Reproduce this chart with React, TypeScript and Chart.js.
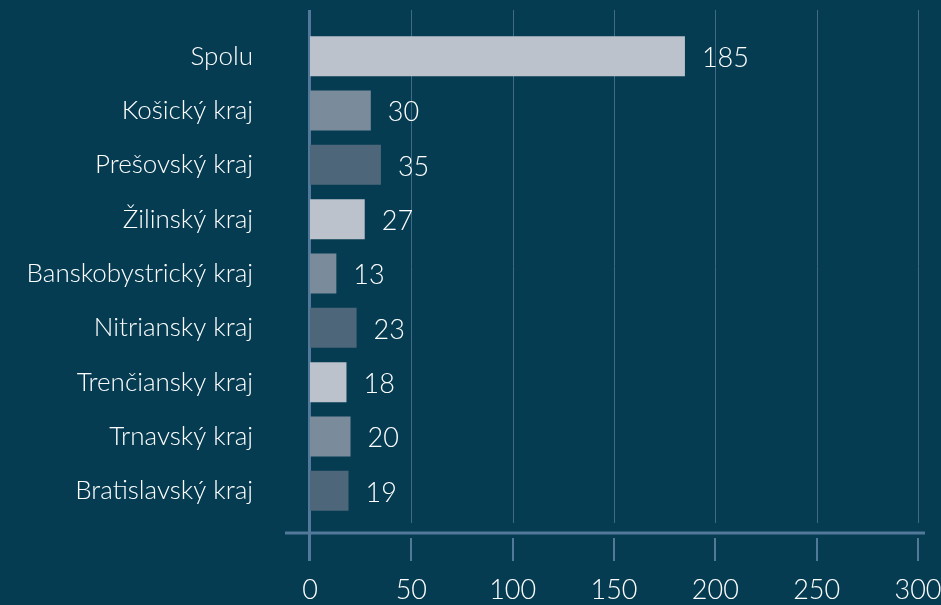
import React, { useEffect, useRef } from "react";
import { Chart, registerables } from "chart.js";

Chart.register(...registerables);

const categories = [
  "Spolu",
  "Košický kraj",
  "Prešovský kraj",
  "Žilinský kraj",
  "Banskobystrický kraj",
  "Nitriansky kraj",
  "Trenčiansky kraj",
  "Trnavský kraj",
  "Bratislavský kraj",
];
const values = [185, 30, 35, 27, 13, 23, 18, 20, 19];
const barColors = [
  "#bcc2cc",
  "#7a8b9b",
  "#4e667a",
  "#bcc2cc",
  "#7a8b9b",
  "#4e667a",
  "#bcc2cc",
  "#7a8b9b",
  "#4e667a",
];
const xTickValues = [0, 50, 100, 150, 200, 250, 300];

const BG = "#053c52";
const GRID = "#3f6b88";
const AXIS = "#52789a";
const FONT = "Lato";

const axesPlugin = {
  id: "customAxes",
  beforeDatasetsDraw(chart: any) {
    const { ctx, chartArea } = chart;
    const { top, bottom, left, right } = chartArea;
    const x = chart.scales.x;
    const gridTop = top - 19;
    const gridBottom = bottom + 5;
    const axisY = bottom + 15;
    const tickTop = bottom + 20;
    const tickBottom = bottom + 43;
    ctx.save();
    ctx.strokeStyle = GRID;
    ctx.lineWidth = 1;
    xTickValues.forEach((v) => {
      if (v === 0) return;
      const px = Math.round(x.getPixelForValue(v)) + 0.5;
      ctx.beginPath();
      ctx.moveTo(px, gridTop);
      ctx.lineTo(px, gridBottom);
      ctx.stroke();
    });
    ctx.strokeStyle = AXIS;
    ctx.lineWidth = 2;
    xTickValues.forEach((v) => {
      if (v === 0) return;
      const px = Math.round(x.getPixelForValue(v));
      ctx.beginPath();
      ctx.moveTo(px, tickTop);
      ctx.lineTo(px, tickBottom);
      ctx.stroke();
    });
    ctx.lineWidth = 3;
    ctx.beginPath();
    ctx.moveTo(left - 25, axisY);
    ctx.lineTo(right + 7, axisY);
    ctx.stroke();
    const zx = x.getPixelForValue(0);
    ctx.lineWidth = 3;
    ctx.beginPath();
    ctx.moveTo(zx - 0.5, gridTop);
    ctx.lineTo(zx - 0.5, tickBottom);
    ctx.stroke();
    ctx.restore();
  },
  afterDatasetsDraw(chart: any) {
    const { ctx } = chart;
    const meta = chart.getDatasetMeta(0);
    ctx.save();
    ctx.fillStyle = "#ffffff";
    ctx.font = `300 27px ${FONT}`;
    ctx.textAlign = "left";
    ctx.textBaseline = "middle";
    meta.data.forEach((bar: any, i: number) => {
      ctx.fillText(String(values[i]), bar.x + 17, bar.y + 2);
    });
    ctx.restore();
  },
};

const zeroPad = (scale: any) => {
  scale.paddingTop = 0;
  scale.paddingBottom = 0;
  scale.paddingLeft = 0;
  scale.paddingRight = 0;
};

export default function App() {
  const ref = useRef<HTMLCanvasElement>(null);
  useEffect(() => {
    if (!ref.current) return;
    const chart = new Chart(ref.current, {
      type: "bar",
      data: {
        labels: categories,
        datasets: [
          {
            data: values,
            backgroundColor: barColors,
            borderWidth: 0,
            categoryPercentage: 1,
            barPercentage: 0.735,
          },
        ],
      },
      options: {
        indexAxis: "y",
        responsive: false,
        animation: false,
        maintainAspectRatio: false,
        layout: { padding: { top: 29, right: 23, bottom: 0, left: 0 } },
        plugins: {
          legend: { display: false },
          tooltip: { enabled: false },
        },
        scales: {
          x: {
            type: "linear",
            min: 0,
            max: 300,
            afterBuildTicks: (scale: any) => {
              scale.ticks = xTickValues.map((v) => ({ value: v }));
            },
            afterFit: (scale: any) => {
              scale.height = 87;
              zeroPad(scale);
            },
            grid: { display: false },
            border: { display: false },
            ticks: {
              color: "#ffffff",
              font: { family: FONT, size: 27, weight: "300" },
              padding: 48,
              maxRotation: 0,
            },
          },
          y: {
            afterFit: (scale: any) => {
              scale.width = 310;
              zeroPad(scale);
            },
            grid: { display: false },
            border: { display: false },
            ticks: {
              color: "#ffffff",
              font: { family: FONT, size: 26, weight: "300" },
              padding: 49,
            },
          },
        },
      },
      plugins: [axesPlugin],
    });
    return () => chart.destroy();
  }, []);
  return (
    <div
      style={{
        position: "fixed",
        left: 0,
        top: 0,
        width: 941,
        height: 605,
        background: BG,
      }}
    >
      <canvas ref={ref} width={941} height={605} />
    </div>
  );
}
